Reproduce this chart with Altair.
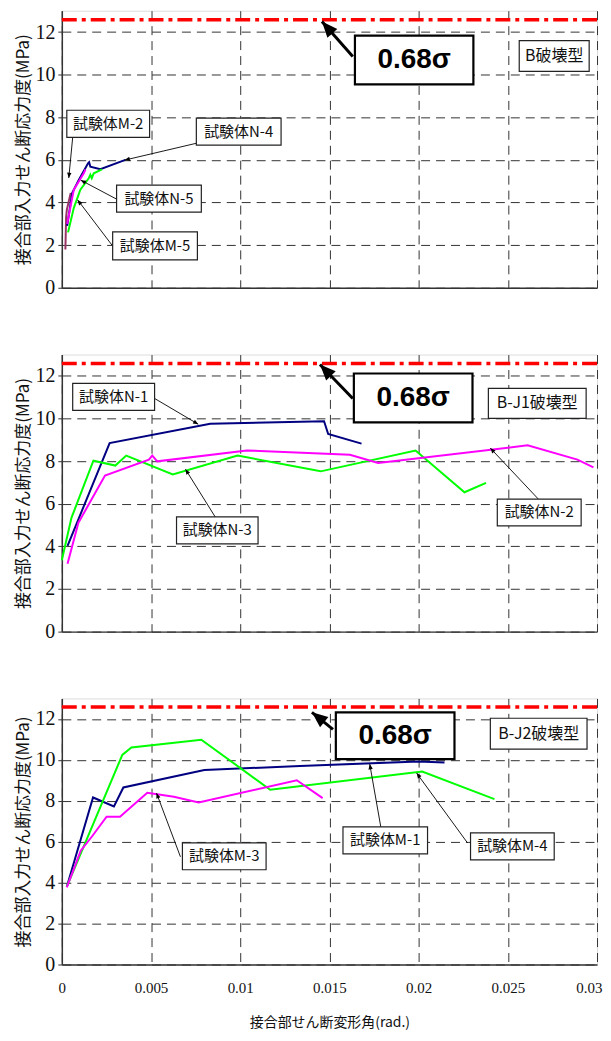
import math
import altair as alt
import pandas as pd

# ---------------- axes ----------------
X_MAX = 0.03
Y_MAX = 13
X_TICKS = [0, 0.005, 0.01, 0.015, 0.02, 0.025, 0.03]
Y_TICKS = [0, 2, 4, 6, 8, 10, 12]
Y_TITLE = "接合部入力せん断応力度(MPa)"
X_TITLE = "接合部せん断変形角(rad.)"
SIGMA_LABEL = "0.68σ"
SIGMA_VALUE = [12.58]

NAVY = "#000080"
GREEN = "#00FF00"
MAGENTA = "#FF00FF"
PLUM = "#993366"

# ---------------- panel 1 : B破壊型 ----------------
P1_TYPE = "B破壊型"
M2_x = [0.0002, 0.00024, 0.00028, 0.0004, 0.0005]
M2_y = [1.8, 3.3, 3.65, 4.1, 4.45]
N4_x = [0.0003, 0.00058, 0.00095, 0.00147, 0.00153, 0.0016, 0.00216, 0.00356]
N4_y = [2.9, 4.44, 5.06, 5.84, 5.89, 5.68, 5.56, 6.0]
N5_x = [0.0003, 0.00067, 0.00123, 0.00132]
N5_y = [3.0, 4.6, 5.37, 5.55]
M5_x = [0.00035, 0.00067, 0.00104, 0.00151, 0.0016, 0.00168, 0.00179, 0.00225]
M5_y = [2.6, 3.74, 4.6, 5.14, 5.3, 5.14, 5.37, 5.56]

# ---------------- panel 2 : B-J1破壊型 ----------------
P2_TYPE = "B-J1破壊型"
N1_x = [0.00032, 0.00268, 0.00832, 0.0147, 0.01493, 0.0168]
N1_y = [4.02, 8.85, 9.75, 9.87, 9.27, 8.82]
N3_x = [0.0, 0.00054, 0.00177, 0.0030, 0.00361, 0.00622, 0.00985, 0.01451, 0.01983, 0.02257, 0.02378]
N3_y = [3.35, 5.34, 8.02, 7.79, 8.26, 7.37, 8.26, 7.52, 8.5, 6.54, 6.98]
N2_x = [0.00032, 0.00093, 0.00242, 0.00488, 0.00507, 0.00535, 0.01037, 0.01615, 0.01773, 0.02611, 0.0289, 0.0298]
N2_y = [3.19, 5.11, 7.32, 8.07, 8.26, 7.99, 8.5, 8.3, 7.91, 8.74, 8.07, 7.71]

# ---------------- panel 3 : B-J2破壊型 ----------------
P3_TYPE = "B-J2破壊型"
M1_x = [0.00028, 0.00175, 0.00292, 0.00345, 0.00799, 0.01335, 0.02, 0.02145]
M1_y = [3.8, 8.16, 7.72, 8.65, 9.5, 9.7, 9.92, 9.87]
M4_x = [0.00028, 0.00339, 0.0039, 0.00782, 0.01168, 0.0202, 0.02425]
M4_y = [3.8, 10.24, 10.6, 10.98, 8.54, 9.43, 8.08]
M3_x = [0.00028, 0.00106, 0.00172, 0.00251, 0.00326, 0.00479, 0.00628, 0.00767, 0.01317, 0.01462]
M3_y = [3.77, 5.56, 6.29, 7.22, 7.22, 8.39, 8.2, 7.92, 9.0, 8.13]

# annotation: text, box (x1, x2, y1, y2), arrow (from x, from y, to x, to y)  -- data units
P1_NOTES = [
    ("試験体M-2", (0.00028, 0.00492, 8.33, 7.06), (0.00061, 7.06, 0.00039, 5.15)),
    ("試験体N-4", (0.00754, 0.01229, 7.96, 6.69), (0.00754, 6.78, 0.00352, 5.99)),
    ("試験体N-5", (0.00307, 0.00782, 4.82, 3.55), (0.00307, 4.16, 0.00106, 5.05)),
    ("試験体M-5", (0.00285, 0.0076, 2.62, 1.31), (0.00285, 1.96, 0.00089, 4.12)),
]
P1_SIGMA = ((0.01643, 0.02307, 11.83, 9.54), (0.01631, 10.85, 0.01458, 12.49))
P1_TYPE_BOX = (0.02564, 0.02956, 11.6, 10.15)

P2_NOTES = [
    ("試験体N-1", (0.00061, 0.0052, 11.65, 10.38), (0.0052, 10.94, 0.00765, 9.73)),
    ("試験体N-3", (0.00643, 0.011, 5.38, 4.12), (0.0086, 5.38, 0.00693, 7.62)),
    ("試験体N-2", (0.02441, 0.02911, 6.22, 4.96), (0.02671, 6.22, 0.02402, 8.61)),
]
P2_SIGMA = ((0.01637, 0.02302, 12.11, 9.82), (0.01631, 10.94, 0.01447, 12.53))
P2_TYPE_BOX = (0.02391, 0.02939, 11.41, 10.01)

P3_NOTES = [
    ("試験体M-3", (0.00676, 0.01145, 5.94, 4.63), (0.00665, 5.26, 0.00531, 8.37)),
    ("試験体M-1", (0.01576, 0.0205, 6.72, 5.4), (0.01788, 6.72, 0.01726, 9.79)),
    ("試験体M-4", (0.02291, 0.0276, 6.43, 5.11), (0.02274, 5.94, 0.01989, 9.35)),
]
P3_SIGMA = ((0.01536, 0.02201, 12.32, 10.03), (0.0152, 11.49, 0.01402, 12.32))
P3_TYPE_BOX = (0.02402, 0.02944, 12.03, 10.52)

PANELS = [
    dict(series=[("試験体M-2", M2_x, M2_y, PLUM), ("試験体N-4", N4_x, N4_y, NAVY),
                 ("試験体M-5", M5_x, M5_y, GREEN), ("試験体N-5", N5_x, N5_y, MAGENTA)],
         notes=P1_NOTES, sigma=P1_SIGMA, type_label=P1_TYPE, type_box=P1_TYPE_BOX,
         height=278, bottom=False),
    dict(series=[("試験体N-1", N1_x, N1_y, NAVY), ("試験体N-3", N3_x, N3_y, GREEN),
                 ("試験体N-2", N2_x, N2_y, MAGENTA)],
         notes=P2_NOTES, sigma=P2_SIGMA, type_label=P2_TYPE, type_box=P2_TYPE_BOX,
         height=278, bottom=False),
    dict(series=[("試験体M-1", M1_x, M1_y, NAVY), ("試験体M-4", M4_x, M4_y, GREEN),
                 ("試験体M-3", M3_x, M3_y, MAGENTA)],
         notes=P3_NOTES, sigma=P3_SIGMA, type_label=P3_TYPE, type_box=P3_TYPE_BOX,
         height=267, bottom=True),
]

ALL_NAMES = [s[0] for p in PANELS for s in p["series"]]
ALL_COLORS = [s[3] for p in PANELS for s in p["series"]]

W = 537
JP = "Noto Sans CJK JP"
SERIF = "Liberation Serif"
HEAD = "M0,0 L-0.42,1 L0.42,1 Z"
LAST_TICK = "datum.value >= 0.0299"


def make_panel(cfg):
    h = cfg["height"]
    sx = W / X_MAX
    sy = h / Y_MAX
    xs = alt.Scale(domain=[0, X_MAX], nice=False, zero=False)
    ys = alt.Scale(domain=[0, Y_MAX], nice=False, zero=False)
    grid = dict(grid=True, gridColor="#333", gridDash=[9, 6], gridWidth=1,
                domainColor="#333", domainWidth=1.5)
    if cfg["bottom"]:
        xaxis = alt.Axis(values=X_TICKS, format="~g", labels=True, ticks=False,
                         labelFont=SERIF, labelFontSize=15, labelColor="#111",
                         labelPadding=16, labelFlush=False, labelOverlap=False,
                         labelAlign={"condition": {"test": LAST_TICK, "value": "right"},
                                     "value": "center"},
                         labelOffset={"condition": {"test": LAST_TICK, "value": 5},
                                      "value": 0},
                         title=X_TITLE, titleFont=JP, titleFontSize=14,
                         titleFontWeight="normal", titleColor="#111", titlePadding=20,
                         **grid)
    else:
        xaxis = alt.Axis(values=X_TICKS, labels=False, ticks=False, title="", **grid)
    yaxis = alt.Axis(values=Y_TICKS, ticks=True, tickSize=4, tickColor="#333",
                     labelFont=SERIF, labelFontSize=20, labelColor="#111", labelPadding=3,
                     title=Y_TITLE, titleFont=JP, titleFontSize=17, titleFontWeight="normal",
                     titleColor="#111", titlePadding=2, **grid)

    rows = []
    for name, xv, yv, col in cfg["series"]:
        for i, (a, b) in enumerate(zip(xv, yv)):
            rows.append({"x": a, "y": b, "s": name, "i": i})
    df = pd.DataFrame(rows)

    lines = alt.Chart(df).mark_line(strokeWidth=2).encode(
        x=alt.X("x:Q", scale=xs, axis=xaxis),
        y=alt.Y("y:Q", scale=ys, axis=yaxis),
        color=alt.Color("s:N", scale=alt.Scale(domain=ALL_NAMES, range=ALL_COLORS), legend=None),
        detail="s:N",
        order="i:Q",
    )

    sig = alt.Chart(pd.DataFrame({"y": SIGMA_VALUE})).mark_rule(
        color="#FF0000", strokeWidth=3.5, strokeDash=[15, 5, 4, 5]
    ).encode(y=alt.Y("y:Q", scale=ys, axis=yaxis))

    boxes, arrows = [], []
    for text, (bx1, bx2, by1, by2), (ax1, ay1, ax2, ay2) in cfg["notes"]:
        boxes.append({"x1": bx1, "x2": bx2, "y1": by1, "y2": by2, "t": text,
                      "cx": (bx1 + bx2) / 2, "cy": (by1 + by2) / 2, "k": "n"})
        arrows.append({"x1": ax1, "y1": ay1, "x2": ax2, "y2": ay2, "w": 0.9, "sz": 110})
    (bx1, bx2, by1, by2), (ax1, ay1, ax2, ay2) = cfg["sigma"]
    boxes.append({"x1": bx1, "x2": bx2, "y1": by1, "y2": by2, "t": SIGMA_LABEL,
                  "cx": (bx1 + bx2) / 2, "cy": (by1 + by2) / 2, "k": "s"})
    arrows.append({"x1": ax1, "y1": ay1, "x2": ax2, "y2": ay2, "w": 3, "sz": 1000})
    bx1, bx2, by1, by2 = cfg["type_box"]
    boxes.append({"x1": bx1, "x2": bx2, "y1": by1, "y2": by2, "t": cfg["type_label"],
                  "cx": (bx1 + bx2) / 2, "cy": (by1 + by2) / 2, "k": "t"})
    for a in arrows:
        dx = (a["x2"] - a["x1"]) * sx
        dy = -(a["y2"] - a["y1"]) * sy
        a["ang"] = math.degrees(math.atan2(dx, -dy)) % 360
    bdf = pd.DataFrame(boxes)
    adf = pd.DataFrame(arrows)

    rules = alt.Chart(adf).mark_rule(color="#000").encode(
        x=alt.X("x1:Q", scale=xs, axis=xaxis), y=alt.Y("y1:Q", scale=ys, axis=yaxis),
        x2="x2:Q", y2="y2:Q", strokeWidth=alt.StrokeWidth("w:Q", scale=None),
    )
    heads = alt.Chart(adf).mark_point(shape=HEAD, filled=True, color="#000", opacity=1,
                                      strokeWidth=0).encode(
        x=alt.X("x2:Q", scale=xs, axis=xaxis), y=alt.Y("y2:Q", scale=ys, axis=yaxis),
        angle=alt.Angle("ang:Q", scale=None), size=alt.Size("sz:Q", scale=None),
    )
    rect_n = alt.Chart(bdf).transform_filter("datum.k != 's'").mark_rect(
        fill="#fff", stroke="#222", strokeWidth=1.2).encode(
        x=alt.X("x1:Q", scale=xs, axis=xaxis), y=alt.Y("y1:Q", scale=ys, axis=yaxis),
        x2="x2:Q", y2="y2:Q")
    rect_s = alt.Chart(bdf).transform_filter("datum.k == 's'").mark_rect(
        fill="#fff", stroke="#000", strokeWidth=2.2).encode(
        x=alt.X("x1:Q", scale=xs, axis=xaxis), y=alt.Y("y1:Q", scale=ys, axis=yaxis),
        x2="x2:Q", y2="y2:Q")
    txt_n = alt.Chart(bdf).transform_filter("datum.k == 'n'").mark_text(
        font=JP, fontSize=15, color="#111", align="center", baseline="middle").encode(
        x=alt.X("cx:Q", scale=xs, axis=xaxis), y=alt.Y("cy:Q", scale=ys, axis=yaxis), text="t:N")
    txt_t = alt.Chart(bdf).transform_filter("datum.k == 't'").mark_text(
        font=JP, fontSize=16, color="#111", align="center", baseline="middle").encode(
        x=alt.X("cx:Q", scale=xs, axis=xaxis), y=alt.Y("cy:Q", scale=ys, axis=yaxis), text="t:N")
    txt_s = alt.Chart(bdf).transform_filter("datum.k == 's'").mark_text(
        font="Liberation Sans", fontSize=28, fontWeight="bold", color="#000",
        align="center", baseline="middle").encode(
        x=alt.X("cx:Q", scale=xs, axis=xaxis), y=alt.Y("cy:Q", scale=ys, axis=yaxis), text="t:N")

    return alt.layer(lines, sig, rules, rect_n, rect_s, txt_n, txt_t, txt_s, heads).properties(
        width=W, height=h)


charts = [make_panel(c) for c in PANELS]
chart = alt.vconcat(*charts, spacing=67, bounds="flush").properties(
    padding={"left": 6, "top": 0, "right": 0, "bottom": 0}
).configure_view(stroke="#888", strokeWidth=1).configure(background="#ffffff")

chart.save("out.html", embed_options={"renderer": "svg", "actions": False})
